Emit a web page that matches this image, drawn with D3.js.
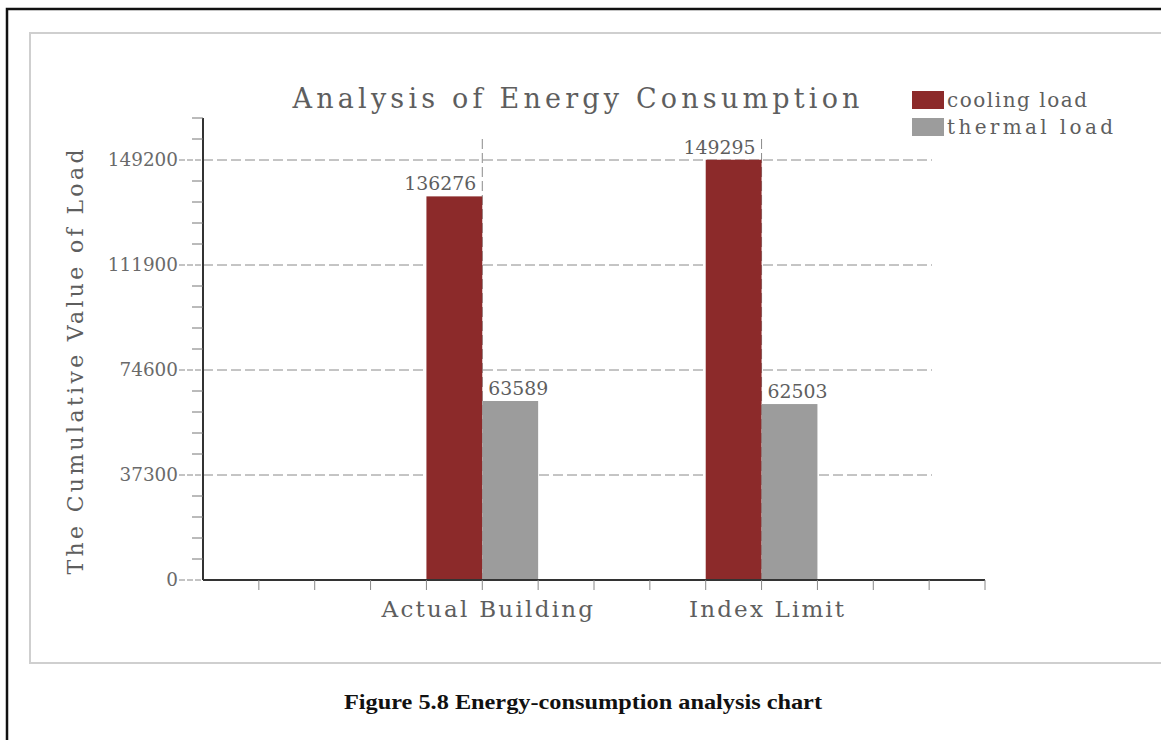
<!DOCTYPE html>
<html>
<head>
<meta charset="utf-8">
<script src="https://cdn.jsdelivr.net/npm/d3@7"></script>
<style>
  html, body { margin: 0; padding: 0; background: #fff; }
  svg { display: block; }
</style>
</head>
<body>
<svg id="chart" width="1161" height="740"></svg>
<script>
// ---- data ----
const categories = ["Actual Building", "Index Limit"];
const seriesNames = ["cooling load", "thermal load"];
const coolingLoad = [136276, 149295];
const thermalLoad = [63589, 62503];
const yTickValues = [0, 37300, 74600, 111900, 149200];
const yTickLabels = ["0", "37300", "74600", "111900", "149200"];
const chartTitle = "Analysis of Energy Consumption";
const yAxisTitle = "The Cumulative Value of Load";
const caption = "Figure 5.8 Energy-consumption analysis chart";

// ---- layout ----
const svg = d3.select("#chart");
const FONT = "'DejaVu Serif', 'Liberation Serif', serif";
const CAPFONT = "'Liberation Serif', serif";
const colors = ["#8c2a2a", "#9c9c9c"];
const textColor = "#5e5e5e";

const x0 = 203, x1 = 985, yBase = 580, yTop = 118;
const slots = 14;
const yMax = 149200 + 2 * 7460;

const x = d3.scaleLinear().domain([0, slots]).range([x0, x1]);
const y = d3.scaleLinear().domain([0, yMax]).range([yBase, yTop]);

// frames
svg.append("rect").attr("x", 30).attr("y", 33).attr("width", 1160).attr("height", 630)
  .attr("fill", "none").attr("stroke", "#cfcfcf").attr("stroke-width", 2);
svg.append("rect").attr("x", 7).attr("y", 9).attr("width", 1170).attr("height", 760)
  .attr("fill", "none").attr("stroke", "#111").attr("stroke-width", 2.5);

// category slot positions: category i centred at slot (i+1)*5
const catPos = categories.map((c, i) => (i + 1) * 5);

// horizontal grid lines
svg.append("g").selectAll("line").data(yTickValues.filter(v => v > 0)).join("line")
  .attr("x1", x0).attr("x2", 932)
  .attr("y1", d => y(d)).attr("y2", d => y(d))
  .attr("stroke", "#8a8a8a").attr("stroke-width", 1).attr("stroke-dasharray", "10,4");

// vertical grid lines at categories
svg.append("g").selectAll("line").data(catPos).join("line")
  .attr("x1", d => x(d)).attr("x2", d => x(d))
  .attr("y1", y(149200 + 7460)).attr("y2", yBase)
  .attr("stroke", "#8a8a8a").attr("stroke-width", 1).attr("stroke-dasharray", "10,4");

// bars
const barData = [];
categories.forEach((c, i) => {
  barData.push({ s: 0, v: coolingLoad[i], from: catPos[i] - 1, to: catPos[i] });
  barData.push({ s: 1, v: thermalLoad[i], from: catPos[i], to: catPos[i] + 1 });
});
svg.append("g").selectAll("rect").data(barData).join("rect")
  .attr("x", d => x(d.from)).attr("width", d => x(d.to) - x(d.from))
  .attr("y", d => y(d.v)).attr("height", d => yBase - y(d.v))
  .attr("fill", d => colors[d.s]);

// bar value labels
svg.append("g").selectAll("text").data(barData).join("text")
  .attr("x", d => d.s === 0 ? x(d.to) - 6 : x(d.from) + 6)
  .attr("y", d => y(d.v) - 6)
  .attr("text-anchor", d => d.s === 0 ? "end" : "start")
  .attr("font-family", FONT).attr("font-size", 18).attr("fill", textColor)
  .attr("textLength", d => String(d.v).length * 12).attr("lengthAdjust", "spacingAndGlyphs")
  .text(d => d.v);

// y axis
const yAxisG = svg.append("g");
yAxisG.append("line").attr("x1", x0).attr("x2", x0).attr("y1", yTop).attr("y2", yBase)
  .attr("stroke", "#333").attr("stroke-width", 2);
const minorTicks = d3.range(0, yMax + 1, 7460).filter(v => !yTickValues.includes(v));
yAxisG.selectAll(".minor").data(minorTicks).join("line")
  .attr("x1", x0 - 11).attr("x2", x0).attr("y1", d => y(d)).attr("y2", d => y(d))
  .attr("stroke", "#777").attr("stroke-width", 1);
yAxisG.selectAll(".major").data(yTickValues).join("line")
  .attr("x1", x0 - 24).attr("x2", x0).attr("y1", d => y(d)).attr("y2", d => y(d))
  .attr("stroke", "#888").attr("stroke-width", 1).attr("stroke-dasharray", "6,2");
yAxisG.selectAll("text").data(yTickValues).join("text")
  .attr("x", 178).attr("y", d => y(d) + 6)
  .attr("text-anchor", "end")
  .attr("font-family", FONT).attr("font-size", 18).attr("fill", "#6a6a6a")
  .each(function (d, i) {
    const t = d3.select(this).text(yTickLabels[i]);
    t.attr("textLength", yTickLabels[i].length * 11.7).attr("lengthAdjust", "spacingAndGlyphs");
  });

// x axis
const xAxisG = svg.append("g");
xAxisG.append("line").attr("x1", x0).attr("x2", x1).attr("y1", yBase).attr("y2", yBase)
  .attr("stroke", "#333").attr("stroke-width", 2);
xAxisG.selectAll("line.t").data(d3.range(1, slots + 1)).join("line")
  .attr("x1", d => x(d)).attr("x2", d => x(d)).attr("y1", yBase).attr("y2", yBase + 10)
  .attr("stroke", "#888").attr("stroke-width", 1);
xAxisG.selectAll("text").data(categories).join("text")
  .attr("x", (d, i) => x(catPos[i]) + 5).attr("y", 617)
  .attr("text-anchor", "middle")
  .attr("font-family", FONT).attr("font-size", 23).attr("fill", textColor)
  .attr("textLength", d => d.length * 14.1).attr("lengthAdjust", "spacing")
  .text(d => d);

// title
svg.append("text").attr("x", 576).attr("y", 108).attr("text-anchor", "middle")
  .attr("font-family", FONT).attr("font-size", 27).attr("fill", textColor)
  .attr("textLength", 567).attr("lengthAdjust", "spacing")
  .text(chartTitle);

// y axis title
svg.append("text").attr("transform", "translate(83,362) rotate(-90)")
  .attr("text-anchor", "middle")
  .attr("font-family", FONT).attr("font-size", 22).attr("fill", textColor)
  .attr("textLength", 425).attr("lengthAdjust", "spacing")
  .text(yAxisTitle);

// legend
const legend = svg.append("g");
const legendWidths = [140, 166];
seriesNames.forEach((name, i) => {
  const cy = 100 + i * 27;
  legend.append("rect").attr("x", 912).attr("y", cy - 9).attr("width", 32).attr("height", 18)
    .attr("fill", colors[i]);
  legend.append("text").attr("x", 947).attr("y", cy + 7)
    .attr("font-family", FONT).attr("font-size", 20).attr("fill", textColor)
    .attr("textLength", legendWidths[i]).attr("lengthAdjust", "spacing")
    .text(name);
});

// caption
svg.append("text").attr("x", 583).attr("y", 709).attr("text-anchor", "middle")
  .attr("font-family", CAPFONT).attr("font-size", 20).attr("font-weight", "bold").attr("fill", "#111")
  .attr("textLength", 478).attr("lengthAdjust", "spacingAndGlyphs")
  .text(caption);
</script>
</body>
</html>
